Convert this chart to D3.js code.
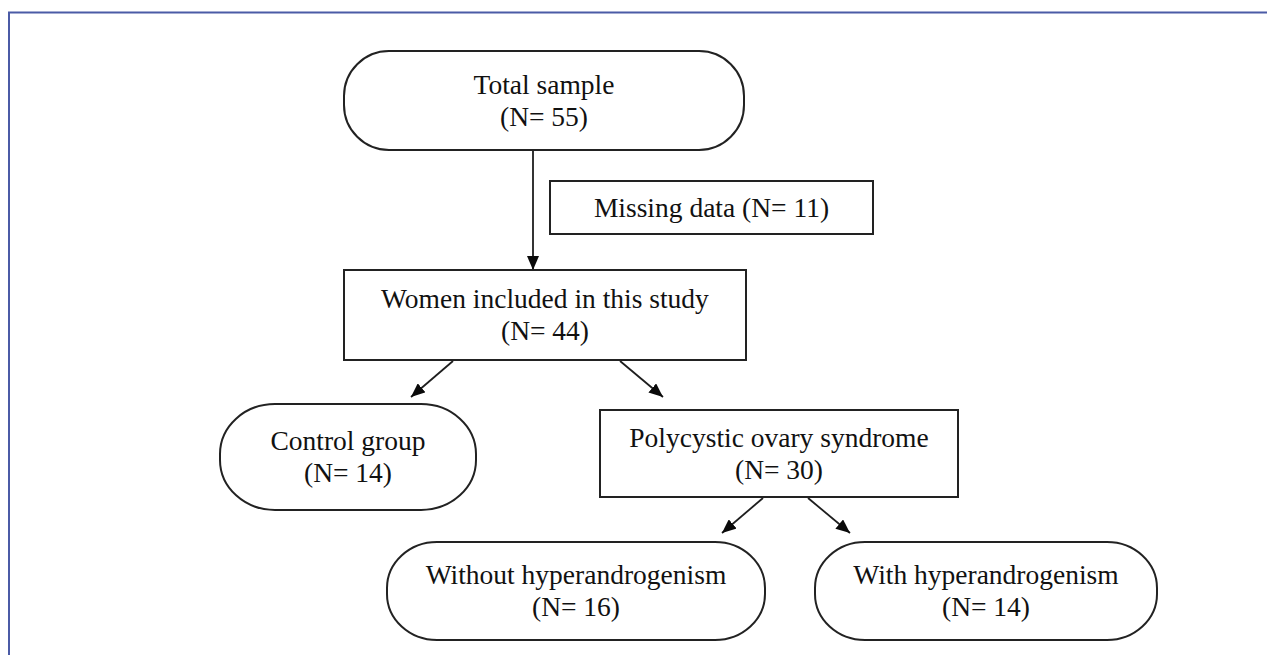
<!DOCTYPE html>
<html>
<head>
<meta charset="utf-8">
<script src="https://cdn.jsdelivr.net/npm/d3@7"></script>
<style>
  html, body { margin: 0; padding: 0; background: #fff; }
  svg { display: block; }
</style>
</head>
<body>
<svg id="chart" width="1267" height="655"></svg>
<script>
// flowchart content
const nodeIds = ["total", "missing", "women", "control", "pcos", "without", "with"];
const nodeLabels = ["Total sample", "Missing data", "Women included in this study", "Control group",
  "Polycystic ovary syndrome", "Without hyperandrogenism", "With hyperandrogenism"];
const nodeCounts = [55, 11, 44, 14, 30, 16, 14];
const nodeShapes = ["round", "rect-inline", "rect", "round", "rect", "round", "round"];
const links = [["total", "women"], ["women", "control"], ["women", "pcos"], ["pcos", "without"], ["pcos", "with"]];

// layout (pixels) kept apart from the data
const layout = {
  total:   { x: 344, y: 51,  w: 400, h: 99,  rx: 45, ry: 45 },
  missing: { x: 550, y: 181, w: 323, h: 53 },
  women:   { x: 344, y: 270, w: 402, h: 90 },
  control: { x: 220, y: 404, w: 256, h: 106, rx: 55, ry: 50 },
  pcos:    { x: 600, y: 410, w: 358, h: 87 },
  without: { x: 387, y: 542, w: 378, h: 98,  rx: 50, ry: 46 },
  with:    { x: 815, y: 542, w: 342, h: 98,  rx: 50, ry: 46 }
};
const linkPaths = {
  "total-women":   [[533, 150], [533, 270]],
  "women-control": [[453, 361], [411, 397]],
  "women-pcos":    [[620, 361], [663, 397]],
  "pcos-without":  [[763, 498], [722, 533]],
  "pcos-with":     [[808, 498], [850, 533]]
};

const nodes = nodeIds.map(function(id, i) {
  return { id: id, label: nodeLabels[i], n: nodeCounts[i], shape: nodeShapes[i], box: layout[id] };
});

const svg = d3.select("#chart");

// outer frame
svg.append("path")
  .attr("d", "M9,655 L9,12.5 L1267,12.5")
  .attr("fill", "none")
  .attr("stroke", "#4b5ba6")
  .attr("stroke-width", 2);

const defs = svg.append("defs");
defs.append("marker")
  .attr("id", "head")
  .attr("viewBox", "0 0 14 12")
  .attr("refX", 14)
  .attr("refY", 6)
  .attr("markerWidth", 14)
  .attr("markerHeight", 12)
  .attr("markerUnits", "userSpaceOnUse")
  .attr("orient", "auto")
  .append("path")
  .attr("d", "M0,0 L14,6 L0,12 Z")
  .attr("fill", "#0a0a0a");

const line = d3.line();

svg.selectAll("path.link")
  .data(links)
  .enter()
  .append("path")
  .attr("class", "link")
  .attr("d", function(d) { return line(linkPaths[d[0] + "-" + d[1]]); })
  .attr("fill", "none")
  .attr("stroke", "#1e1e1e")
  .attr("stroke-width", 1.8)
  .attr("marker-end", "url(#head)");

const g = svg.selectAll("g.node")
  .data(nodes)
  .enter()
  .append("g")
  .attr("class", "node");

g.append("rect")
  .attr("x", function(d) { return d.box.x; })
  .attr("y", function(d) { return d.box.y; })
  .attr("width", function(d) { return d.box.w; })
  .attr("height", function(d) { return d.box.h; })
  .attr("rx", function(d) { return d.shape == "round" ? d.box.rx : 0; })
  .attr("ry", function(d) { return d.shape == "round" ? d.box.ry : 0; })
  .attr("fill", "#fff")
  .attr("stroke", "#222")
  .attr("stroke-width", 2);

const txt = g.append("text")
  .attr("text-anchor", "middle")
  .style("font-family", "'Liberation Serif', 'Times New Roman', serif")
  .style("font-size", "27.5px")
  .attr("fill", "#111");

txt.each(function(d) {
  let t = d3.select(this);
  let cx = d.box.x + d.box.w / 2;
  let cy = d.box.y + d.box.h / 2;
  if (d.shape == "rect-inline") {
    t.append("tspan").attr("x", cx).attr("y", cy + 9)
      .text(d.label + " (N= " + d.n + ")");
  } else {
    t.append("tspan").attr("x", cx).attr("y", cy - 7).text(d.label);
    t.append("tspan").attr("x", cx).attr("y", cy + 25).text("(N= " + d.n + ")");
  }
});
</script>
</body>
</html>
